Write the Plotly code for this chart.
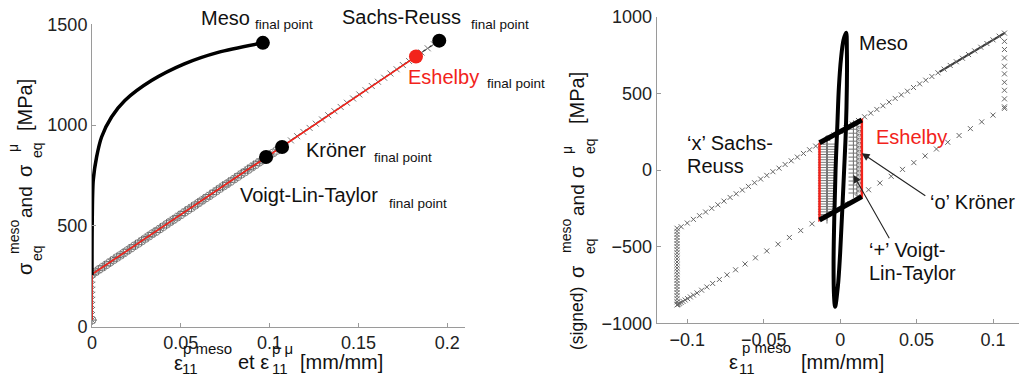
import plotly.graph_objects as go

W, H = 1019, 376

# ---------------- LEFT PANEL DATA (monotonic loading) ----------------
meso_eps = [0.0, 0.0001, 0.0007, 0.0026, 0.0054, 0.011, 0.0185, 0.0335, 0.052, 0.071, 0.0962]
meso_sig = [256, 495, 726, 842, 941, 1040, 1122, 1221, 1304, 1361, 1408]

eshelby_eps = [0.0, 0.0, 0.1824]
eshelby_sig = [33, 260, 1340]

sachs_eps = [0, 0, 0, 0, 0, 0, 0, 0, 0,
             0, .0035, .007, .0105, .014, .0175, .021, .0245, .028, .0315, .035, .0385, .042, .0455,
             .049, .0525, .056, .0595, .063, .0665, .07, .0735, .077, .0805, .084, .0875, .091, .0945,
             .098, .1015, .105, .1085, .112, .1155, .119, .1225, .126, .1295, .133, .1365, .14, .1435,
             .147, .1505, .154, .1575, .161, .1645, .168, .1715, .175, .1785, .182, .1855, .189, .1925, .1955]
sachs_sig = [33, 58, 83, 108, 133, 158, 183, 208, 233,
             260, 281, 302, 322, 343, 364, 385, 405, 426, 447, 468, 488, 509, 530, 551, 571, 592, 613,
             634, 654, 675, 696, 717, 737, 758, 779, 800, 820, 841, 862, 883, 903, 924, 945, 966, 986,
             1007, 1028, 1049, 1069, 1090, 1111, 1132, 1152, 1173, 1194, 1215, 1235, 1256, 1277, 1298,
             1318, 1339, 1360, 1381, 1401, 1419]

voigt_eps = [0, 0, .0035, .007, .0105, .014, .0175, .021, .0245, .028, .0315, .035, .0385, .042, .0455,
             .049, .0525, .056, .0595, .063, .0665, .07, .0735, .077, .0805, .084, .0875, .091, .0945, .098]
voigt_sig = [33, 260, 281, 302, 322, 343, 364, 385, 406, 426, 447, 468, 489, 509, 530, 551, 572, 593,
             613, 634, 655, 676, 697, 717, 738, 759, 780, 800, 821, 842]

kroner_eps = [0, 0, .002, .004, .006, .008, .01, .012, .014, .016, .018, .02, .022, .024, .026, .028,
              .03, .032, .034, .036, .038, .04, .042, .044, .046, .048, .05, .052, .054, .056, .058,
              .06, .062, .064, .066, .068, .07, .072, .074, .076, .078, .08, .082, .084, .086, .088,
              .09, .092, .094, .096, .098, .1, .102, .104, .106]
kroner_sig = [33, 260, 272, 284, 295, 307, 319, 331, 343, 354, 366, 378, 390, 402, 413, 425, 437, 449,
              461, 472, 484, 496, 508, 520, 531, 543, 555, 567, 579, 590, 602, 614, 626, 638, 649, 661,
              673, 685, 697, 708, 720, 732, 744, 756, 767, 779, 791, 803, 815, 826, 838, 850, 862, 874, 885]

final_black_eps = [0.0962, 0.1955, 0.107, 0.098]
final_black_sig = [1408, 1419, 891, 842]
final_eshelby_eps = [0.1824]
final_eshelby_sig = [1340]

# ---------------- RIGHT PANEL DATA (cyclic loading) ----------------
sr_up_eps = [-0.104, -0.100, -0.096, -0.092, -0.088, -0.084, -0.080, -0.076, -0.072, -0.068, -0.064,
             -0.060, -0.056, -0.052, -0.048, -0.044, -0.040, -0.036, -0.032, -0.028, -0.024, -0.020,
             -0.016, -0.012, -0.008, -0.004, 0.0, 0.004, 0.008, 0.012, 0.016, 0.020, 0.024, 0.028,
             0.032, 0.036, 0.040, 0.044, 0.048, 0.052, 0.056, 0.060, 0.064, 0.068, 0.072, 0.076,
             0.080, 0.084, 0.088, 0.092, 0.096, 0.100, 0.104]
sr_up_sig = [-370, -346, -322, -298, -274, -250, -227, -203, -179, -155, -131, -107, -83, -59, -35,
             -11, 12, 36, 60, 84, 108, 132, 156, 180, 204, 228, 251, 275, 299, 323, 347, 371, 395,
             419, 443, 467, 490, 514, 538, 562, 586, 610, 634, 658, 682, 706, 729, 753, 777, 801,
             825, 849, 873]
sr_dense_eps = [0.065, 0.1078]
sr_dense_sig = [640, 895]
sr_right_eps = [0.1075] * 11
sr_right_sig = [893, 839, 786, 731, 677, 627, 572, 520, 464, 412, 402]
sr_low_eps = [0.1, 0.0926, 0.0852, 0.0778, 0.0704, 0.063, 0.0556, 0.0482, 0.0408, 0.0334, 0.026,
              0.0186, 0.0112, 0.0038, -0.0036, -0.011, -0.0184, -0.0258, -0.0332, -0.0406, -0.048,
              -0.0554, -0.0622, -0.0684, -0.074, -0.079, -0.0834, -0.0872, -0.0906, -0.0936, -0.096,
              -0.098, -0.0998, -0.1014, -0.1028, -0.104, -0.105, -0.1058, -0.1064]
sr_low_sig = [358, 314, 270, 225, 181, 137, 92, 48, 4, -41, -85, -129, -174, -218, -262, -307, -351,
              -395, -440, -484, -528, -573, -613, -651, -684, -714, -740, -763, -784, -802, -816,
              -828, -839, -848, -857, -864, -870, -875, -878]
sr_left_eps = [-0.1067] * 26
sr_left_sig = [-880, -860, -840, -820, -800, -780, -760, -740, -720, -700, -680, -660, -640, -620,
               -600, -580, -560, -540, -520, -500, -480, -460, -440, -420, -400, -380]

mloop_eps = [0.0039, 0.0044, 0.0044, 0.0037, 0.0026, 0.0012, 0.0, -0.0015, -0.0033,
             -0.0040, -0.0043, -0.0038, -0.0030, -0.0018, -0.0008, 0.0006, 0.0022, 0.0039]
mloop_sig = [896, 780, 550, 250, 0, -300, -543, -761, -892,
             -820, -600, -300, 0, 300, 543, 730, 848, 896]

esh_loop_eps = [-0.0135, 0.0142, 0.0142, -0.0135, -0.0135]
esh_loop_sig = [178, 326, -174, -326, 178]

vk_edge_eps = [-0.0135, 0.0142, None, -0.0135, 0.0142]
vk_edge_sig = [178, 326, None, -326, -174]

voigt_in_eps = [-0.0086] * 28
voigt_in_sig = [-290, -273, -256, -239, -222, -205, -188, -171, -154, -137, -120, -103, -86, -69,
                -52, -35, -18, -1, 16, 33, 50, 67, 84, 101, 118, 135, 152, 169]
voigt_in2_eps = [0.0087] * 18
kroner_in_eps = [0.0126] * 18
inner_right_sig = [-150, -124, -98, -72, -46, -20, 6, 32, 58, 84, 110, 136, 162, 188, 214, 240, 266, 292]

# ---------------- STYLES ----------------
RED = "#f2231b"
INK = "#111111"
FONT = "Liberation Sans, Arial, Helvetica, sans-serif"

fig = go.Figure()
L = dict(xaxis="x", yaxis="y")
R = dict(xaxis="x2", yaxis="y2")

# left panel traces
fig.add_trace(go.Scatter(x=kroner_eps, y=kroner_sig, mode="markers",
                         marker=dict(symbol="circle-open", size=8, color="#8a8a8a", line=dict(width=1)), **L))
fig.add_trace(go.Scatter(x=voigt_eps, y=voigt_sig, mode="markers",
                         marker=dict(symbol="cross-thin-open", size=7, color="#666", line=dict(width=1)), **L))
fig.add_trace(go.Scatter(x=sachs_eps, y=sachs_sig, mode="lines+markers",
                         line=dict(color="#222", width=1),
                         marker=dict(symbol="x-thin-open", size=6, color="#777", line=dict(width=1)), **L))
fig.add_trace(go.Scatter(x=eshelby_eps, y=eshelby_sig, mode="lines",
                         line=dict(color=RED, width=1.6), **L))
fig.add_trace(go.Scatter(x=meso_eps, y=meso_sig, mode="lines",
                         line=dict(color="black", width=3.5, shape="spline", smoothing=0.8), **L))
fig.add_trace(go.Scatter(x=final_black_eps, y=final_black_sig, mode="markers",
                         marker=dict(size=14, color="black"), **L))
fig.add_trace(go.Scatter(x=final_eshelby_eps, y=final_eshelby_sig, mode="markers",
                         marker=dict(size=14, color=RED), **L))

# right panel traces
fig.add_trace(go.Scatter(x=sr_dense_eps, y=sr_dense_sig, mode="lines",
                         line=dict(color="#333", width=2), **R))
for ex, sy in [(sr_up_eps, sr_up_sig), (sr_right_eps, sr_right_sig),
               (sr_low_eps, sr_low_sig), (sr_left_eps, sr_left_sig)]:
    fig.add_trace(go.Scatter(x=ex, y=sy, mode="markers",
                             marker=dict(symbol="x-thin-open", size=5, color="#666", line=dict(width=1)), **R))
fig.add_trace(go.Scatter(x=voigt_in_eps, y=voigt_in_sig, mode="markers",
                         marker=dict(symbol="cross-thin-open", size=13, color="#777", line=dict(width=1)), **R))
fig.add_trace(go.Scatter(x=voigt_in2_eps, y=inner_right_sig, mode="markers",
                         marker=dict(symbol="cross-thin-open", size=7, color="#777", line=dict(width=1)), **R))
fig.add_trace(go.Scatter(x=kroner_in_eps, y=inner_right_sig, mode="markers",
                         marker=dict(symbol="circle-open", size=6, color="#777", line=dict(width=1)), **R))
fig.add_trace(go.Scatter(x=esh_loop_eps, y=esh_loop_sig, mode="lines",
                         line=dict(color=RED, width=2.5), **R))
fig.add_trace(go.Scatter(x=vk_edge_eps, y=vk_edge_sig, mode="lines",
                         line=dict(color="black", width=5), **R))
fig.add_trace(go.Scatter(x=mloop_eps, y=mloop_sig, mode="lines",
                         line=dict(color="black", width=4, shape="spline", smoothing=1.0), **R))

axis_common = dict(showline=True, linecolor="#9a9a9a", linewidth=1, ticks="inside", ticklen=4,
                   tickcolor="#9a9a9a", showgrid=False, zeroline=False, automargin=False,
                   tickfont=dict(family=FONT, size=18, color="#222"))

fig.update_layout(
    width=W, height=H, margin=dict(l=0, r=0, t=0, b=0, pad=0, autoexpand=False),
    paper_bgcolor="white", plot_bgcolor="white", showlegend=False,
    xaxis=dict(domain=[92 / W, 465 / W], range=[0, 0.21], anchor="y",
               tickvals=[0, 0.05, 0.1, 0.15, 0.2], ticktext=["0", "0.05", "0.1", "0.15", "0.2"],
               **axis_common),
    yaxis=dict(domain=[1 - 326.7 / H, 1 - 24.3 / H], range=[0, 1500], anchor="x",
               tickvals=[0, 500, 1000, 1500], ticktext=["0", "500", "1000", "1500"], **axis_common),
    xaxis2=dict(domain=[656.7 / W, 1.0], range=[-0.12, 0.117], anchor="y2",
                tickvals=[-0.1, -0.05, 0, 0.05, 0.1], ticktext=["\u22120.1", "\u22120.05", "0", "0.05", "0.1"],
                **axis_common),
    yaxis2=dict(domain=[1 - 323.3 / H, 1 - 16.7 / H], range=[-1000, 1000], anchor="x2",
                tickvals=[-1000, -500, 0, 500, 1000],
                ticktext=["\u22121000", "\u2212500", "0", "500", "1000"], **axis_common),
)

annots = []


def txt(s, px, py, size=20, color=INK, angle=0, xa="left"):
    annots.append(dict(text=s, x=px / W, y=1 - py / H, xref="paper", yref="paper",
                       xanchor=xa, yanchor="middle", showarrow=False, textangle=angle,
                       font=dict(family=FONT, size=size, color=color)))


# left panel labels
txt("Meso", 199, 18)
txt("final point", 253, 25, 13.5)
txt("Sachs-Reuss", 340, 17)
txt("final point", 469, 25, 13.5)
txt("Eshelby", 406, 77, color=RED)
txt("final point", 485, 84, 13.5)
txt("Kröner", 304, 150)
txt("final point", 372, 157, 13.5)
txt("Voigt-Lin-Taylor", 238, 195)
txt("final point", 387, 203, 13.5)

# left y title pieces (rotated)
txt("σ", 25, 269, 20, angle=-90, xa="center")
txt("meso", 14, 237, 14, angle=-90, xa="center")
txt("eq", 37, 253, 14, angle=-90, xa="center")
txt("and", 25, 202, 19, angle=-90, xa="center")
txt("σ", 25, 171, 20, angle=-90, xa="center")
txt("μ", 13, 148, 14, angle=-90, xa="center")
txt("eq", 37, 150, 14, angle=-90, xa="center")
txt("[MPa]", 25, 105, 20, angle=-90, xa="center")

# left x title pieces
txt("ε", 178, 363, 20, xa="center")
txt("p meso", 207, 348, 15, xa="center")
txt("11", 190, 368, 15, xa="center")
txt("et ε", 253, 362, 20, xa="center")
txt("p μ", 282, 348, 15, xa="center")
txt("11", 280, 368, 15, xa="center")
txt("[mm/mm]", 341.5, 362, 20, xa="center")

# right panel labels
txt("Meso", 857, 43)
txt("\u2018x\u2019 Sachs-", 685, 143)
txt("Reuss", 685, 166)
txt("Eshelby", 874, 137, color=RED)
txt("\u2018o\u2019 Kröner", 928, 202)
txt("\u2018+\u2019 Voigt-", 867, 250)
txt("Lin-Taylor", 867, 273)

# right y title pieces
txt("(signed)", 577, 319, 17.5, angle=-90, xa="center")
txt("σ", 577, 272, 20, angle=-90, xa="center")
txt("meso", 566, 236, 14, angle=-90, xa="center")
txt("eq", 590, 246, 14, angle=-90, xa="center")
txt("and", 577, 200, 19, angle=-90, xa="center")
txt("σ", 577, 172, 20, angle=-90, xa="center")
txt("μ", 567, 150, 14, angle=-90, xa="center")
txt("eq", 590, 146, 14, angle=-90, xa="center")
txt("[MPa]", 577, 98, 20, angle=-90, xa="center")

# right x title pieces
txt("ε", 733, 362, 20, xa="center")
txt("p meso", 766, 347, 15, xa="center")
txt("11", 747, 368, 15, xa="center")
txt("[mm/mm]", 842, 362, 20, xa="center")

# arrows (right panel, data coordinates)
for head, tail in [((0.0142, 110), (0.0567, -175)), ((0.0087, -33), (0.0327, -455))]:
    annots.append(dict(text="", x=head[0], y=head[1], xref="x2", yref="y2",
                       ax=tail[0], ay=tail[1], axref="x2", ayref="y2",
                       showarrow=True, arrowhead=2, arrowsize=1.4, arrowwidth=1.1, arrowcolor="#222"))

fig.update_layout(annotations=annots)
fig.write_html("out.html", config={"displayModeBar": False, "staticPlot": True},
               post_script="document.body.style.margin='0';document.body.style.padding='0';"
                           "document.body.style.overflow='hidden';")
